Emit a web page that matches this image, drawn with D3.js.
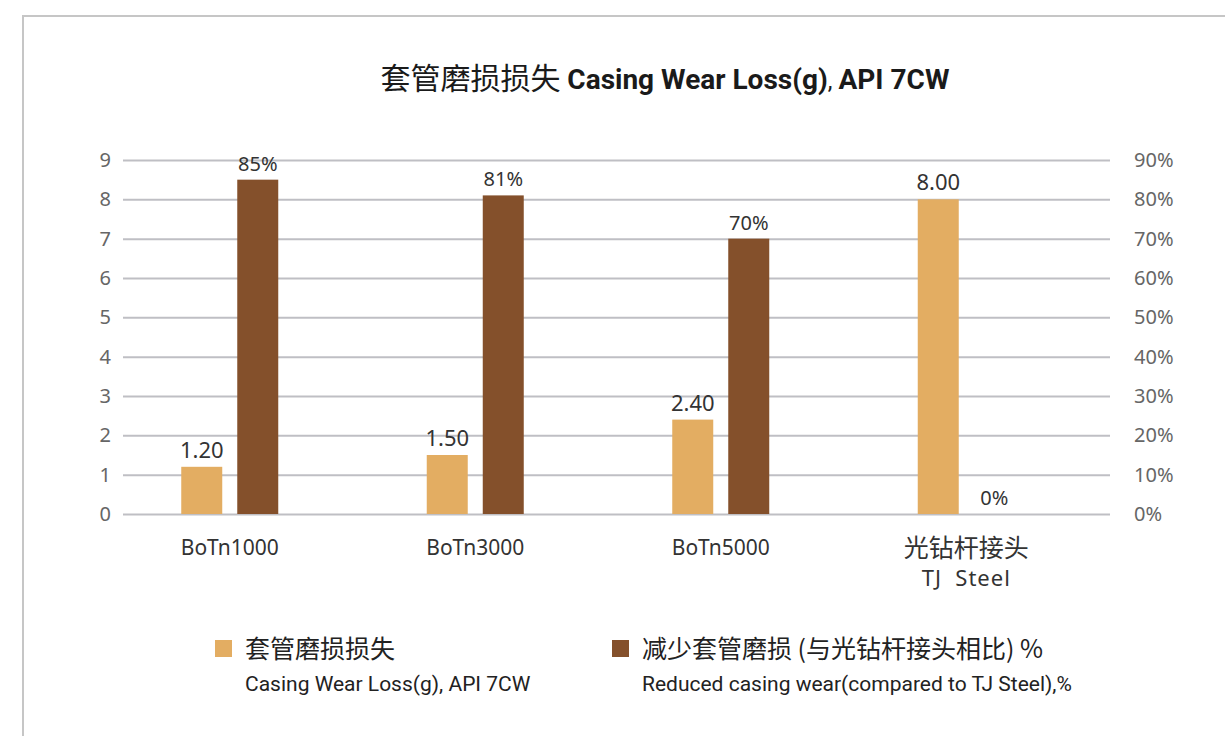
<html lang="zh">
<head>
<meta charset="utf-8">
<script src="https://cdnjs.cloudflare.com/ajax/libs/d3/7.7.0/d3.min.js"></script>
<style>
html, body {
  margin: 0;
  background: #fff;
}
svg text {
  font-family: 'Noto Sans', 'Noto Sans CJK SC', sans-serif;
}
.cn {
  font-family: 'Noto Sans CJK SC', sans-serif;
}
.narrow {
  font-family: 'Liberation Sans Narrow', 'Roboto', 'Noto Sans CJK SC', sans-serif;
}
</style>
</head>
<body>
<svg width="1225" height="736"></svg>
<script>
// data
const categories = ['BoTn1000', 'BoTn3000', 'BoTn5000', '光钻杆接头'];
const subLabels = ['', '', '', 'TJ  Steel'];
const wearLoss = [1.2, 1.5, 2.4, 8.0];          // g, left axis
const reducedWear = [0.85, 0.81, 0.70, 0];       // %, right axis
const leftTicks = [0, 1, 2, 3, 4, 5, 6, 7, 8, 9];
const rightTicks = [0, 0.1, 0.2, 0.3, 0.4, 0.5, 0.6, 0.7, 0.8, 0.9];
const seriesNames = ['loss', 'reduced'];
const legendCn = ['套管磨损损失', '减少套管磨损 (与光钻杆接头相比) %'];
const legendEn = ['Casing Wear Loss(g), API 7CW', 'Reduced casing wear(compared to TJ Steel),%'];

const colors = { loss: '#E3AD62', reduced: '#84502B' };

const svg = d3.select('svg');

// outer frame
svg.append('path')
  .attr('d', 'M23,736 V16 H1225')
  .attr('fill', 'none')
  .attr('stroke', '#C6C6C6')
  .attr('stroke-width', 2);

// title
const title = svg.append('text')
  .attr('x', 665)
  .attr('y', 89)
  .attr('text-anchor', 'middle')
  .attr('fill', '#1a1a1a');
title.append('tspan').attr('class', 'cn').attr('font-size', 30).text('套管磨损损失 ');
title.append('tspan').attr('class', 'narrow').attr('font-size', 28).attr('font-weight', 'bold').text('Casing Wear Loss(g)');
title.append('tspan').attr('class', 'narrow').attr('font-size', 24).text(', ');
title.append('tspan').attr('class', 'narrow').attr('font-size', 28).attr('font-weight', 'bold').text('API 7CW');

const y = d3.scaleLinear().domain([0, 9]).range([514, 160]);
const yR = d3.scaleLinear().domain([0, 0.9]).range([514, 160]);
const x = d3.scaleBand().domain(categories).range([107, 1089]);
const x1 = d3.scaleBand().domain(seriesNames).range([0, 97]).paddingInner(0.268);

// gridlines
const grid = svg.append('g')
  .attr('transform', 'translate(123,0)')
  .call(d3.axisRight(y).tickValues(leftTicks).tickSize(987).tickFormat(''));
grid.select('.domain').remove();
grid.selectAll('line').attr('stroke', '#BFBFC4').attr('stroke-width', 2);

// left axis
const yAxis = svg.append('g')
  .attr('transform', 'translate(111,0)')
  .call(d3.axisLeft(y).tickValues(leftTicks).tickSize(0).tickPadding(0));
yAxis.select('.domain').remove();
yAxis.selectAll('text')
  .attr('font-size', 20)
  .attr('fill', '#666')
  .attr('font-family', "'Noto Sans', sans-serif");

// right axis
const yAxisR = svg.append('g')
  .attr('transform', 'translate(1134,0)')
  .call(d3.axisRight(yR).tickValues(rightTicks).tickSize(0).tickPadding(0).tickFormat(d3.format('.0%')));
yAxisR.select('.domain').remove();
yAxisR.selectAll('text')
  .attr('font-size', 20)
  .attr('fill', '#666')
  .attr('font-family', "'Noto Sans', sans-serif");

// bars
const rows = categories.map((c, i) => ({ cat: c, loss: wearLoss[i], reduced: reducedWear[i] }));
const groups = svg.append('g')
  .selectAll('g')
  .data(rows)
  .join('g')
  .attr('transform', d => `translate(${x(d.cat) + x.bandwidth() / 2 - 48.5},0)`);

groups.append('rect')
  .attr('x', x1('loss'))
  .attr('width', x1.bandwidth())
  .attr('y', d => y(d.loss))
  .attr('height', d => y(0) - y(d.loss))
  .attr('fill', colors.loss);

groups.append('rect')
  .attr('x', x1('reduced'))
  .attr('width', x1.bandwidth())
  .attr('y', d => yR(d.reduced))
  .attr('height', d => yR(0) - yR(d.reduced))
  .attr('fill', colors.reduced);

groups.append('text')
  .attr('x', x1('loss') + x1.bandwidth() / 2)
  .attr('y', d => y(d.loss) - 9)
  .attr('text-anchor', 'middle')
  .attr('font-size', 22)
  .attr('fill', '#333')
  .text(d => d.loss.toFixed(2));

groups.append('text')
  .attr('x', x1('reduced') + x1.bandwidth() / 2)
  .attr('y', d => yR(d.reduced) - 9)
  .attr('text-anchor', 'middle')
  .attr('font-size', 20)
  .attr('fill', '#333')
  .text(d => d3.format('.0%')(d.reduced));

// category labels
const xAxis = svg.append('g')
  .attr('transform', 'translate(0,514)')
  .call(d3.axisBottom(x).tickSize(0).tickPadding(0));
xAxis.select('.domain').remove();
xAxis.selectAll('text').remove();
xAxis.selectAll('.tick').each(function (d, i) {
  const t = d3.select(this);
  const isCn = /[\u4e00-\u9fff]/.test(d);
  t.append('text')
    .attr('y', isCn ? 43 : 41)
    .attr('text-anchor', 'middle')
    .attr('font-size', isCn ? 25 : 21)
    .attr('fill', '#333')
    .attr('font-family', isCn ? "'Noto Sans CJK SC', sans-serif" : "'Noto Sans', sans-serif")
    .text(d);
  if (subLabels[i]) {
    t.append('text')
      .attr('y', 72)
      .attr('text-anchor', 'middle')
      .attr('font-size', 22)
      .attr('letter-spacing', 1)
      .attr('fill', '#333')
      .attr('xml:space', 'preserve')
      .style('white-space', 'pre')
      .text(subLabels[i]);
  }
});

// legend
const legendX = [215, 612];
seriesNames.forEach((s, i) => {
  const g = svg.append('g').attr('transform', `translate(${legendX[i]},640)`);
  g.append('rect').attr('width', 17).attr('height', 17).attr('fill', colors[s]);
  g.append('text')
    .attr('class', 'cn')
    .attr('x', 30)
    .attr('y', 18)
    .attr('font-size', 25)
    .attr('fill', '#222')
    .text(legendCn[i]);
  g.append('text')
    .attr('class', 'narrow')
    .attr('x', 30)
    .attr('y', 51)
    .attr('font-size', 21)
    .attr('fill', '#222')
    .text(legendEn[i]);
});
</script>
</body>
</html>
